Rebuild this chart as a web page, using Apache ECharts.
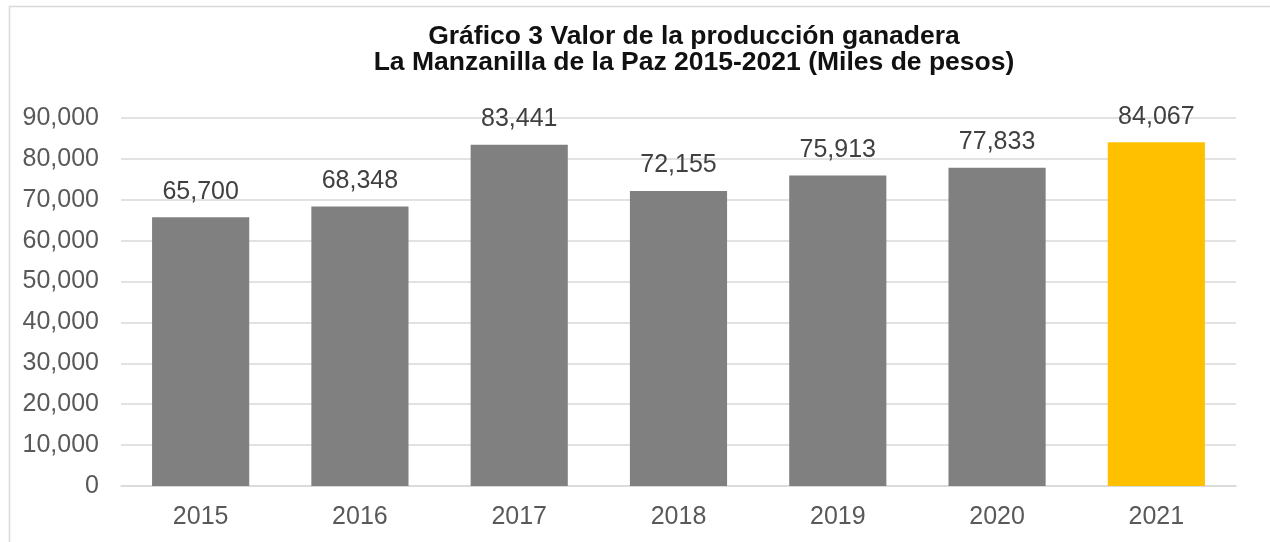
<!DOCTYPE html>
<html>
<head>
<meta charset="utf-8">
<script src="https://cdn.jsdelivr.net/npm/echarts@6/dist/echarts.min.js"></script>
<style>
  html, body { margin: 0; padding: 0; background: #fff; }
  #chart { width: 1270px; height: 542px; }
</style>
</head>
<body>
<div id="chart"></div>
<script>
const years = ["2015", "2016", "2017", "2018", "2019", "2020", "2021"];
const values = [65700, 68348, 83441, 72155, 75913, 77833, 84067];
const titleLines = [
  "Gráfico 3 Valor de la producción ganadera",
  "La Manzanilla de la Paz 2015-2021 (Miles de pesos)"
];

const grayBar = "#808080";
const lastBar = "#ffc000";
const fmt = (v) => v.toLocaleString("en-US");

const chart = echarts.init(document.getElementById("chart"));
chart.setOption({
  animation: false,
  textStyle: { fontFamily: "Liberation Sans, Arial, sans-serif" },
  graphic: [
    {
      type: "rect",
      shape: { x: 9.5, y: 6.5, width: 1400, height: 700 },
      style: { fill: "none", stroke: "#d9d9d9", lineWidth: 1.5 },
      silent: true
    }
  ],
  title: {
    text: titleLines.join("\n"),
    left: 689,
    top: 19,
    textAlign: "center",
    textStyle: {
      fontSize: 26.5,
      fontWeight: "bold",
      color: "#111",
      lineHeight: 26,
      fontFamily: "Liberation Sans, Arial, sans-serif"
    }
  },
  grid: { left: 121, right: 34, top: 118, bottom: 56 },
  xAxis: {
    type: "category",
    data: years,
    axisLine: { show: true, lineStyle: { color: "#d9d9d9", width: 1.5 } },
    axisTick: { show: false },
    axisLabel: { color: "#595959", fontSize: 25, margin: 19 }
  },
  yAxis: {
    type: "value",
    min: 0,
    max: 90000,
    interval: 10000,
    axisLine: { show: false },
    axisTick: { show: false },
    splitLine: { lineStyle: { color: "#d9d9d9", width: 1.5 } },
    axisLabel: { color: "#595959", fontSize: 25, margin: 22, formatter: fmt }
  },
  series: [
    {
      type: "bar",
      barWidth: "61%",
      data: values.map((v, i) => ({
        value: v,
        itemStyle: { color: i === values.length - 1 ? lastBar : grayBar }
      })),
      label: {
        show: true,
        position: "top",
        distance: 13,
        color: "#404040",
        fontSize: 25,
        formatter: (p) => fmt(p.value)
      }
    }
  ]
});
</script>
</body>
</html>
